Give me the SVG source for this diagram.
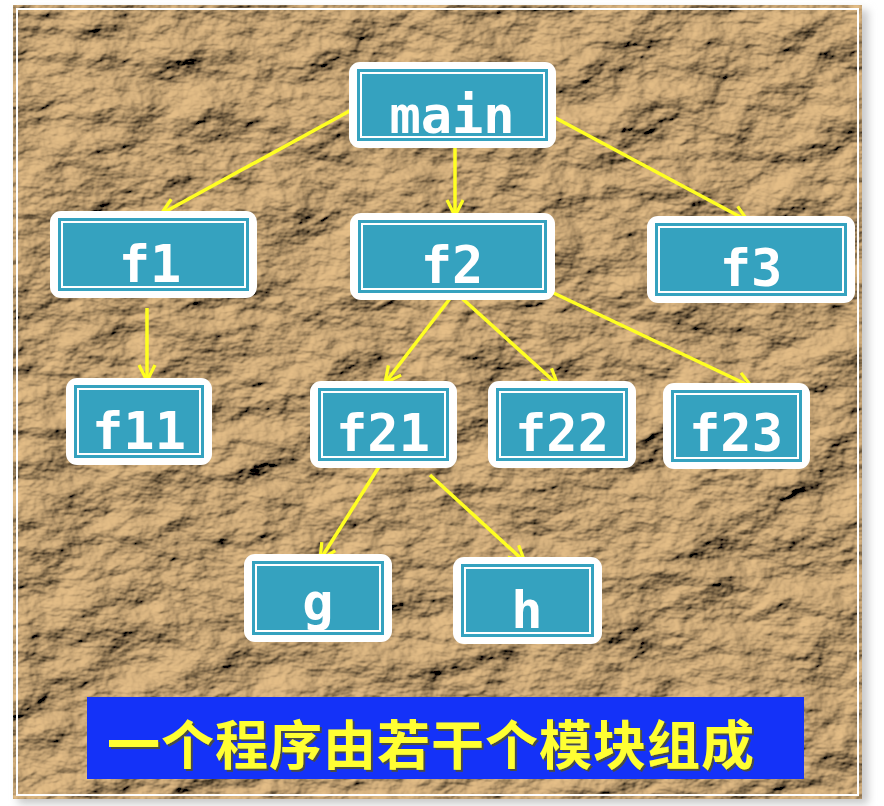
<svg xmlns="http://www.w3.org/2000/svg" width="884" height="806" viewBox="0 0 884 806">
<style>
.outer{fill:#ffffff}
.inner{fill:#35a2bf}
.line{fill:none;stroke:#ffffff;stroke-width:2}
.lbl{font-family:"DejaVu Sans Mono","Liberation Mono",monospace;font-size:52px;font-weight:bold;fill:#ffffff;text-anchor:middle}
.edge{stroke:#ffff22;stroke-width:3.5;fill:none;marker-end:url(#arr)}
.cap{font-family:"Noto Sans CJK SC","Liberation Sans",sans-serif;font-size:53px;font-weight:bold;fill:#ffff33;letter-spacing:1px}
</style>
<defs>
<filter id="paper" filterUnits="userSpaceOnUse" x="13" y="5" width="849" height="794">
<feTurbulence type="fractalNoise" baseFrequency="0.014 0.022" numOctaves="5" seed="11" result="n"/>
<feDiffuseLighting in="n" surfaceScale="14" diffuseConstant="1.0" lighting-color="#e6bf88" result="l">
<feDistantLight azimuth="225" elevation="40"/>
</feDiffuseLighting>
<feComposite in="l" in2="SourceAlpha" operator="in"/>
</filter>
<filter id="sh" x="-10%" y="-10%" width="120%" height="120%">
<feGaussianBlur stdDeviation="4"/>
</filter>
<filter id="tsh" x="-5%" y="-20%" width="110%" height="140%">
<feDropShadow dx="2" dy="2" stdDeviation="0.5" flood-color="#505030" flood-opacity="0.9"/>
</filter>
<marker id="arr" viewBox="0 0 12 12" refX="11" refY="6" markerWidth="5.5" markerHeight="5.5" orient="auto" markerUnits="strokeWidth">
<path d="M1,1 L11,6 L1,11" fill="none" stroke="#ffff22" stroke-width="2"/>
</marker>
</defs>
<rect x="0" y="0" width="884" height="806" fill="#ffffff"/>
<rect x="18" y="10" width="850" height="794" fill="#c8c8c8" filter="url(#sh)"/>
<rect x="13" y="5" width="849" height="794" fill="#b08a5c" filter="url(#paper)"/>
<rect x="17" y="9" width="841" height="786" fill="none" stroke="#ffffff" stroke-width="2"/>

<g id="connectors">
<line class="edge" x1="355" y1="108" x2="161" y2="214"/>
<line class="edge" x1="455" y1="145" x2="455" y2="216"/>
<line class="edge" x1="550" y1="115" x2="748" y2="221"/>
<line class="edge" x1="147" y1="308" x2="147" y2="381"/>
<line class="edge" x1="455" y1="292" x2="385" y2="383"/>
<line class="edge" x1="455" y1="292" x2="558" y2="385"/>
<line class="edge" x1="543" y1="288" x2="752" y2="387"/>
<line class="edge" x1="382" y1="462" x2="320" y2="560"/>
<line class="edge" x1="430" y1="475" x2="525" y2="562"/>
</g>

<g id="main">
<rect class="outer" x="349" y="62" width="207" height="86" rx="11"/>
<rect class="inner" x="357" y="69" width="191" height="72"/>
<rect class="line" x="361" y="73" width="183" height="64"/>
<text class="lbl" x="452" y="133">main</text>
</g>
<g id="f1">
<rect class="outer" x="50" y="211" width="207" height="87" rx="11"/>
<rect class="inner" x="58" y="218" width="191" height="73"/>
<rect class="line" x="62" y="222" width="183" height="65"/>
<text class="lbl" x="150" y="282">f1</text>
</g>
<g id="f2">
<rect class="outer" x="350" y="213" width="205" height="87" rx="11"/>
<rect class="inner" x="358" y="220" width="189" height="73"/>
<rect class="line" x="362" y="224" width="181" height="65"/>
<text class="lbl" x="452" y="283">f2</text>
</g>
<g id="f3">
<rect class="outer" x="647" y="216" width="208" height="87" rx="11"/>
<rect class="inner" x="655" y="223" width="192" height="73"/>
<rect class="line" x="659" y="227" width="184" height="65"/>
<text class="lbl" x="751" y="286">f3</text>
</g>
<g id="f11">
<rect class="outer" x="66" y="378" width="146" height="87" rx="11"/>
<rect class="inner" x="74" y="385" width="130" height="73"/>
<rect class="line" x="78" y="389" width="122" height="65"/>
<text class="lbl" x="139" y="449">f11</text>
</g>
<g id="f21">
<rect class="outer" x="310" y="381" width="147" height="87" rx="11"/>
<rect class="inner" x="318" y="388" width="131" height="73"/>
<rect class="line" x="322" y="392" width="123" height="65"/>
<text class="lbl" x="383" y="451">f21</text>
</g>
<g id="f22">
<rect class="outer" x="488" y="381" width="148" height="87" rx="11"/>
<rect class="inner" x="496" y="388" width="132" height="73"/>
<rect class="line" x="500" y="392" width="124" height="65"/>
<text class="lbl" x="562" y="451">f22</text>
</g>
<g id="f23">
<rect class="outer" x="663" y="383" width="147" height="86" rx="11"/>
<rect class="inner" x="671" y="390" width="131" height="72"/>
<rect class="line" x="675" y="394" width="123" height="64"/>
<text class="lbl" x="736" y="451">f23</text>
</g>
<g id="g">
<rect class="outer" x="244" y="554" width="148" height="88" rx="11"/>
<rect class="inner" x="252" y="561" width="132" height="74"/>
<rect class="line" x="256" y="565" width="124" height="66"/>
<text class="lbl" x="318" y="620">g</text>
</g>
<g id="h">
<rect class="outer" x="453" y="557" width="149" height="87" rx="11"/>
<rect class="inner" x="461" y="564" width="133" height="73"/>
<rect class="line" x="465" y="568" width="125" height="65"/>
<text class="lbl" x="527" y="628">h</text>
</g>

<g id="caption">
<rect x="87" y="697" width="717" height="82" fill="#1432f8"/>
<text class="cap" x="107" y="765" filter="url(#tsh)">一个程序由若干个模块组成</text>
</g>
</svg>
